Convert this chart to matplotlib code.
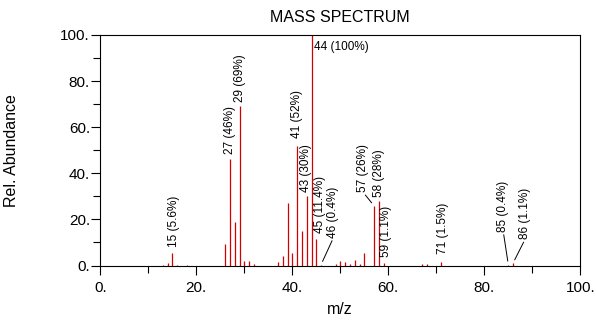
import matplotlib
matplotlib.use("Agg")
import matplotlib.pyplot as plt
from matplotlib.ticker import MultipleLocator, FuncFormatter

plt.rcParams["font.family"] = ["Liberation Sans", "DejaVu Sans"]

# Peak list: m/z and relative abundance (%)
mz = [13, 14, 15, 16, 18, 26, 27, 28, 29, 30, 31, 32, 37, 38, 39, 40, 41, 42,
      43, 44, 45, 46, 49, 50, 51, 52, 53, 54, 55, 57, 58, 59, 67, 68, 71, 85, 86]
abundance = [0.3, 1.0, 5.6, 0.3, 0.3, 9.4, 46, 19, 69, 2.0, 2.0, 0.5, 1.6, 4.0,
             27, 5.5, 52, 15, 30, 100, 11.4, 0.4, 0.6, 1.9, 1.4, 0.7, 2.6, 0.6,
             5.4, 26, 28, 1.1, 0.8, 0.5, 1.5, 0.4, 1.1]

# Annotated peaks
label_mz = [15, 27, 29, 41, 43, 44, 45, 46, 57, 58, 59, 71, 85, 86]
label_pct = ["5.6", "46", "69", "52", "30", "100", "11.4", "0.4", "26", "28",
             "1.1", "1.5", "0.4", "1.1"]

x_ticks = [0, 20, 40, 60, 80, 100]
y_ticks = [0, 20, 40, 60, 80, 100]

# Label placement (offsets in points) and which labels get a leader line
label_offset = {15: (1, 4), 27: (0, 3.6), 29: (0, 3), 41: (0, 5.5), 43: (-0.5, 3.2),
                45: (2.5, 4.5), 58: (0.5, 3), 59: (1.5, 4.5), 71: (1.2, 6),
                46: (8.8, 19.2), 57: (-7.8, 9.6), 85: (-3.6, 23.5), 86: (8.6, 17)}
leader = {46, 57, 85, 86}

W, H = 596, 325
fig = plt.figure(figsize=(W / 100, H / 100), dpi=100)
ax = fig.add_axes([100.3 / W, 1 - 265.5 / H, 480 / W, 230.5 / H])

ax.vlines(mz, 0, abundance, color="#d40000", lw=0.9)

ax.set_xlim(0, 100)
ax.set_ylim(0, 100)
ax.set_xticks(x_ticks)
ax.set_yticks(y_ticks)
ax.xaxis.set_minor_locator(MultipleLocator(10))
ax.yaxis.set_minor_locator(MultipleLocator(10))
fmt = FuncFormatter(lambda v, p: f"{v:.0f}.")
ax.xaxis.set_major_formatter(fmt)
ax.yaxis.set_major_formatter(fmt)
ax.tick_params(which="major", direction="out", length=6.5, width=0.8,
               labelsize=11, color="black")
ax.tick_params(axis="x", which="major", pad=5)
ax.tick_params(axis="y", which="major", pad=1)
ax.tick_params(which="minor", direction="out", length=4.8, width=0.8)
for s in ax.spines.values():
    s.set_linewidth(0.8)
    s.set_color("black")

height = dict(zip(mz, abundance))
for m, pct in zip(label_mz, label_pct):
    text = f"{m} ({pct}%)"
    if m == 44:
        ax.annotate(text, xy=(m, height[m]), xytext=(1.8, -8.6),
                    textcoords="offset points", ha="left", va="center",
                    fontsize=8.5)
        continue
    dx, dy = label_offset[m]
    props = None
    if m in leader:
        props = dict(arrowstyle="-", color="black", lw=0.7, relpos=(0.5, 0),
                     shrinkA=0, shrinkB=2.5)
    ax.annotate(text, xy=(m, height[m]), xytext=(dx, dy),
                textcoords="offset points", rotation=90, ha="center",
                va="bottom", fontsize=8.5, arrowprops=props)

fig.text(340.15 / W, 1 - 17.6 / H, "MASS SPECTRUM", ha="center", va="center",
         fontsize=11.5)
fig.text(12 / W, 1 - 150.25 / H, "Rel. Abundance", rotation=90, ha="center",
         va="center", fontsize=11.5)
fig.text(340.15 / W, 1 - 309 / H, "m/z", ha="center", va="center", fontsize=11.5)

fig.savefig("out.png", dpi=100)
